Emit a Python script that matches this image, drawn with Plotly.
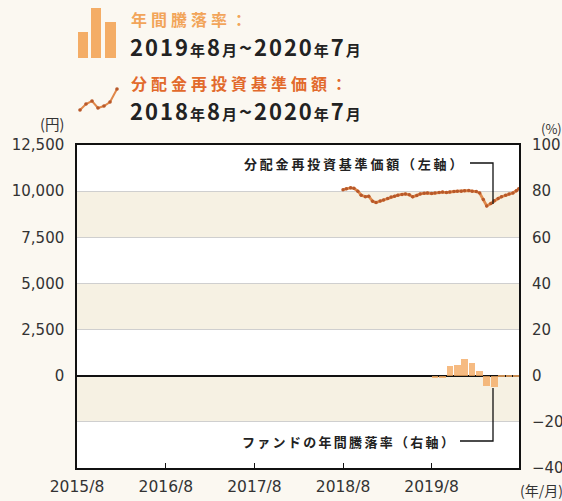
import plotly.graph_objects as go
import pandas as pd

# ---------------- data ----------------
nav_dates = [
    "2018-08-01", "2018-08-15", "2018-09-01", "2018-09-15", "2018-10-01", "2018-10-15",
    "2018-11-01", "2018-11-15", "2018-12-01", "2018-12-15", "2019-01-01", "2019-01-15",
    "2019-02-01", "2019-02-15", "2019-03-01", "2019-03-15", "2019-04-01", "2019-04-15",
    "2019-05-01", "2019-05-15", "2019-06-01", "2019-06-15", "2019-07-01", "2019-07-15",
    "2019-08-01", "2019-08-15", "2019-09-01", "2019-09-15", "2019-10-01", "2019-10-15",
    "2019-11-01", "2019-11-15", "2019-12-01", "2019-12-15", "2020-01-01", "2020-01-15",
    "2020-02-01", "2020-02-15", "2020-03-01", "2020-03-15", "2020-04-01", "2020-04-15",
    "2020-05-01", "2020-05-15", "2020-06-01", "2020-06-15", "2020-07-01", "2020-07-15",
    "2020-07-25",
]
nav_values = [
    10080, 10130, 10180, 10150, 10000, 9780,
    9700, 9720, 9450, 9380, 9460, 9520,
    9600, 9680, 9720, 9780, 9820, 9850,
    9800, 9690, 9770, 9850, 9880, 9900,
    9870, 9900, 9930, 9950, 9920, 9960,
    9980, 10000, 9990, 10020, 10030, 10000,
    9980, 9900, 9550, 9200, 9330, 9480,
    9600, 9700, 9780, 9850, 9900, 10020,
    10130,
]

ret_months = [
    "2019-08-15", "2019-09-15", "2019-10-15", "2019-11-15", "2019-12-15", "2020-01-15",
    "2020-02-15", "2020-03-15", "2020-04-15", "2020-05-15", "2020-06-15", "2020-07-15",
]
ret_values = [-1.2, -1.0, 4.0, 4.5, 7.4, 5.7, 2.0, -4.5, -4.8, -0.3, -0.6, -0.4]

x_tickvals = ["2015-08-01", "2016-08-01", "2017-08-01", "2018-08-01", "2019-08-01"]
x_ticktext = ["2015/8", "2016/8", "2017/8", "2018/8", "2019/8"]
left_ticks = [0, 2500, 5000, 7500, 10000, 12500]
left_ticktext = ["0", "2,500", "5,000", "7,500", "10,000", "12,500"]
right_ticks = [-40, -20, 0, 20, 40, 60, 80, 100]

# ---------------- layout helpers ----------------
W, H = 562, 501
L, R, T, B = 77, 519, 145, 468
FONT = "Noto Sans CJK JP"
NUMFONT = "DejaVu Sans"


def px(x):
    return (x - L) / (R - L)


def py(y):
    return (B - y) / (B - T)


fig = go.Figure()

fig.add_trace(go.Bar(
    x=pd.to_datetime(ret_months), y=ret_values, yaxis="y2",
    marker=dict(color="#f4ab63", line=dict(width=0)), opacity=0.8,
    width=[27 * 86400000] * len(ret_values), showlegend=False,
))

fig.add_trace(go.Scatter(
    x=pd.to_datetime(nav_dates), y=nav_values, mode="lines+markers",
    line=dict(color="#e08a4c", width=2.8),
    marker=dict(color="#b8592a", size=3.5),
    showlegend=False,
))

shapes = []
for lo, hi in [(60, 80), (20, 40), (-20, 0)]:
    shapes.append(dict(type="rect", xref="paper", yref="y2", x0=0, x1=1, y0=lo, y1=hi,
                       fillcolor="#f6f1e3", line=dict(width=0), layer="below"))

# leader lines
shapes.append(dict(type="path", xref="paper", yref="paper",
                   path=f"M {px(470)},{py(163)} L {px(493)},{py(163)} L {px(493)},{py(204)}",
                   line=dict(color="#111", width=1.3)))
shapes.append(dict(type="path", xref="paper", yref="paper",
                   path=f"M {px(460)},{py(441)} L {px(493)},{py(441)} L {px(493)},{py(388)}",
                   line=dict(color="#111", width=1.3)))

# bar legend icon
for (x0, x1, ytop) in [(78, 88, 32), (91, 101, 8), (105, 116, 22)]:
    shapes.append(dict(type="rect", xref="paper", yref="paper",
                       x0=px(x0), x1=px(x1), y0=py(58), y1=py(ytop),
                       fillcolor="#f4ad66", line=dict(width=0)))

# line legend icon
icon_pts = [(80, 110), (86, 104), (92, 101), (98, 108), (104, 106), (110, 102), (117, 89)]
path = "M " + " L ".join(f"{px(a)},{py(b)}" for a, b in icon_pts)
shapes.append(dict(type="path", xref="paper", yref="paper", path=path,
                   line=dict(color="#e0884a", width=2)))
for a, b in icon_pts:
    shapes.append(dict(type="circle", xref="paper", yref="paper",
                       x0=px(a - 1.8), x1=px(a + 1.8), y0=py(b + 1.8), y1=py(b - 1.8),
                       fillcolor="#b8592a", line=dict(width=0)))

small = "<span style='font-size:15px'>"


def period(y1, m1, y2, m2):
    return (f"<b><span style='letter-spacing:2px'>{y1}{small}年</span>{m1}{small}月</span>~"
            f"{y2}{small}年</span>{m2}{small}月</span></span></b>")


def spaced(t, sp):
    return f"<span style='letter-spacing:{sp}px'>{t}</span>"


annotations = [
    dict(text="<b>" + spaced("年間騰落率：", 4) + "</b>", x=px(129), y=py(19),
         font=dict(size=16, color="#f2a55a")),
    dict(text=period(2019, 8, 2020, 7), x=px(128), y=py(46), font=dict(size=22, color="#222")),
    dict(text="<b>" + spaced("分配金再投資基準価額：", 4) + "</b>", x=px(129), y=py(83),
         font=dict(size=16, color="#e26a2c")),
    dict(text=period(2018, 8, 2020, 7), x=px(128), y=py(110), font=dict(size=22, color="#222")),
    dict(text="(円)", x=px(38), y=py(124), font=dict(size=14.5, color="#333")),
    dict(text="(%)", x=px(539), y=py(128), font=dict(size=13, color="#333")),
    dict(text="(年/月)", x=px(518), y=py(490), font=dict(size=14, color="#333")),
]
for a in annotations:
    a.update(xref="paper", yref="paper", xanchor="left", yanchor="middle", showarrow=False)

annotations += [
    dict(text="<b>" + spaced("分配金再投資基準価額（左軸）", 2.8) + "</b>", x=px(467), y=py(163),
         xref="paper", yref="paper", xanchor="right", yanchor="middle", showarrow=False,
         font=dict(size=13, color="#222")),
    dict(text="<b>" + spaced("ファンドの年間騰落率（右軸）", 2.3) + "</b>", x=px(458), y=py(441),
         xref="paper", yref="paper", xanchor="right", yanchor="middle", showarrow=False,
         font=dict(size=13, color="#222")),
]

fig.update_layout(
    width=W, height=H,
    margin=dict(l=L, r=W - R, t=T, b=H - B, pad=0, autoexpand=False),
    paper_bgcolor="#fbf8f1", plot_bgcolor="#ffffff",
    font=dict(family=FONT, size=14, color="#333"),
    bargap=0,
    shapes=shapes, annotations=annotations,
    xaxis=dict(type="date", range=["2015-08-01", "2020-07-26"],
               tickvals=x_tickvals, ticktext=x_ticktext, automargin=False,
               ticks="inside", ticklen=5, tickcolor="#111", tickwidth=1.2,
               showgrid=False, showline=True, linecolor="#111", linewidth=1.5, mirror=True,
               tickfont=dict(family=NUMFONT, size=15.5, color="#333"), ticklabelstandoff=4),
    yaxis=dict(range=[-5000, 12500], tickvals=left_ticks, ticktext=left_ticktext,
               automargin=False,
               showgrid=False, zeroline=False, showline=True, linecolor="#111", linewidth=1.5,
               mirror=True, ticks="", tickfont=dict(family=NUMFONT, size=15, color="#333"),
               ticklabelstandoff=8),
    yaxis2=dict(range=[-40, 100], tickvals=right_ticks, overlaying="y", side="right",
                automargin=False,
                showgrid=True, gridcolor="#cfcfcf", gridwidth=1,
                zeroline=True, zerolinecolor="#111", zerolinewidth=1.5,
                showline=False, ticks="", tickfont=dict(family=NUMFONT, size=15, color="#333"),
                ticklabelstandoff=12),
)

fig.write_html("out.html", config={"displayModeBar": False},
               post_script="document.body.style.margin='0';")
